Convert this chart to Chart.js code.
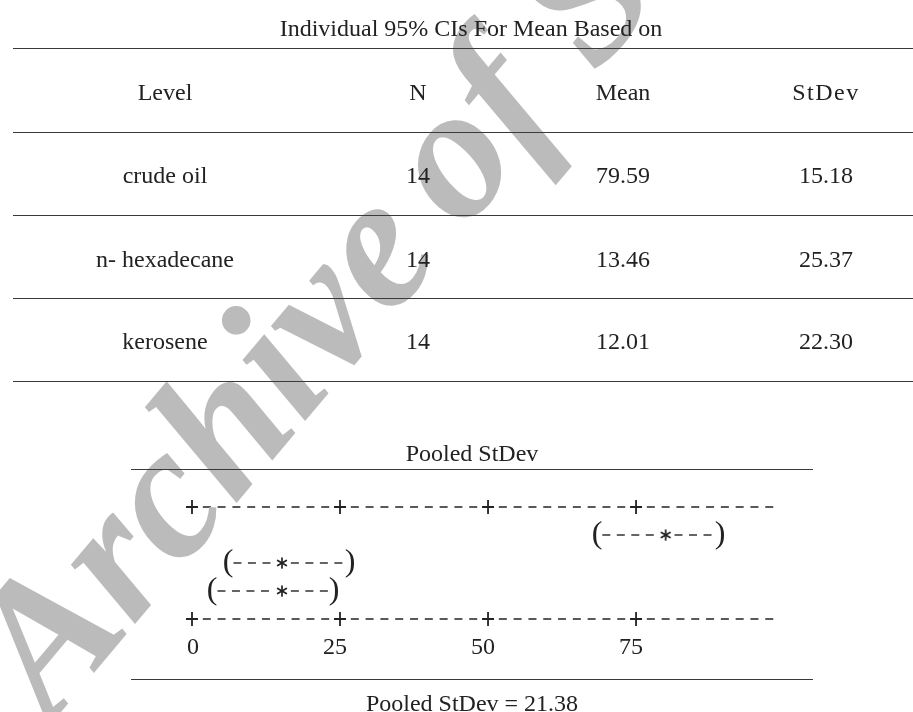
<!DOCTYPE html>
<html>
<head>
<meta charset="utf-8">
<script src="https://cdn.jsdelivr.net/npm/chart.js@4.4.1/dist/chart.umd.min.js"></script>
<style>
  html, body { margin: 0; padding: 0; background: #fff; }
  body { width: 913px; height: 712px; position: relative; overflow: hidden;
         font-family: "Liberation Serif", "Times New Roman", serif; color: #222; }
  .t { position: absolute; font-size: 24px; line-height: 24px; white-space: nowrap; transform: translateX(-50%); }
  .rule { position: absolute; height: 0; border-top: 1.5px solid #3a3a3a; }
  #plotWrap { position: absolute; left: 0; top: 490px; width: 913px; height: 180px; }
  #mark { position: absolute; left: 0; top: 0; pointer-events: none; }
</style>
</head>
<body>
<div id="plotWrap"><canvas id="ciChart"></canvas></div>
<canvas id="mark" width="913" height="712"></canvas>
<script>
// table data
const headers = ['Level', 'N', 'Mean', 'StDev'];
const levels = ['crude oil', 'n- hexadecane', 'kerosene'];
const counts = [14, 14, 14];
const means = [79.59, 13.46, 12.01];
const stdevs = [15.18, 25.37, 22.30];
const pooledStDev = 21.38;

// text plot
const tickValues = [0, 25, 50, 75];
const ciLow = [68.4, 6.1, 3.4];
const ciStar = [80.0, 15.2, 15.2];
const ciHigh = [89.2, 26.7, 24.0];
const xMax = 98.3;

// ---- table part (plain text + rules) ----
function addText(str, cx, baseline, extra) {
    const d = document.createElement('div');
    d.className = 't';
    d.textContent = str;
    d.style.left = cx + 'px';
    d.style.top = (baseline - 19) + 'px';
    if (extra) Object.assign(d.style, extra);
    document.body.appendChild(d);
}
function addRule(x1, x2, y) {
    const d = document.createElement('div');
    d.className = 'rule';
    d.style.left = x1 + 'px';
    d.style.width = (x2 - x1) + 'px';
    d.style.top = y + 'px';
    document.body.appendChild(d);
}

const colX = [165, 418, 623, 826];
const rowBase = [182, 266, 348];

addText('Individual 95% CIs For Mean Based on', 471, 35);
headers.forEach((h, i) => addText(h, colX[i], 99, i === 3 ? { letterSpacing: '1.5px' } : null));
levels.forEach((lv, r) => {
    addText(lv, colX[0], rowBase[r]);
    addText(String(counts[r]), colX[1], rowBase[r]);
    addText(means[r].toFixed(2), colX[2], rowBase[r]);
    addText(stdevs[r].toFixed(2), colX[3], rowBase[r]);
});
addRule(13, 913, 48);
addRule(13, 913, 132);
addRule(13, 913, 215);
addRule(13, 913, 298);
addRule(13, 913, 381);

addText('Pooled StDev', 472, 460);
addRule(131, 813, 469);
addRule(131, 813, 679);
addText('Pooled StDev = ' + pooledStDev.toFixed(2), 472, 710);

// ---- character-style CI plot ----
const star = document.createElement('canvas');
star.width = 14; star.height = 14;
(function() {
    const c = star.getContext('2d');
    c.strokeStyle = '#222';
    c.lineWidth = 1.7;
    c.lineCap = 'round';
    for (let k = 0; k < 3; k++) {
        const a = Math.PI / 2 + k * Math.PI / 3;
        c.beginPath();
        c.moveTo(7 + 5 * Math.cos(a), 7 + 5 * Math.sin(a));
        c.lineTo(7 - 5 * Math.cos(a), 7 - 5 * Math.sin(a));
        c.stroke();
    }
})();

const padParen = 0.9, padStar = 1.5;
const datasets = [{
    label: 'mean',
    data: ciStar.map((v, i) => ({ x: v, y: i + 1 })),
    pointStyle: star,
    pointRadius: 7,
    showLine: false,
    order: 0
}];
levels.forEach((lv, i) => {
    const base = { borderColor: '#333', borderWidth: 1.6, borderDash: [8, 6.5], pointRadius: 0, showLine: true, order: 1 };
    datasets.push(Object.assign({ label: lv + ' lo', data: [{ x: ciLow[i] + padParen, y: i + 1 }, { x: ciStar[i] - padStar, y: i + 1 }] }, base));
    datasets.push(Object.assign({ label: lv + ' hi', data: [{ x: ciStar[i] + padStar, y: i + 1 }, { x: ciHigh[i] - padParen, y: i + 1 }] }, base));
});

const textPlot = {
    id: 'textPlot',
    afterDatasetsDraw(chart) {
        const ctx = chart.ctx;
        const xs = chart.scales.x, ys = chart.scales.y;
        const step = (tickValues[1] - tickValues[0]) / 10;
        ctx.save();
        ctx.strokeStyle = '#222';
        ctx.fillStyle = '#222';
        // axis rows, top and bottom
        [0, 4].forEach(row => {
            const y = ys.getPixelForValue(row);
            ctx.lineWidth = 1.5;
            for (let v = step; v <= xMax + 0.01; v += step) {
                if (Math.abs(v / (step * 10) - Math.round(v / (step * 10))) < 0.01) continue;
                const px = xs.getPixelForValue(v);
                ctx.beginPath();
                ctx.moveTo(px - 4, y);
                ctx.lineTo(px + 4, y);
                ctx.stroke();
            }
            ctx.lineWidth = 1.8;
            tickValues.forEach(t => {
                const px = xs.getPixelForValue(t);
                ctx.beginPath();
                ctx.moveTo(px - 6, y); ctx.lineTo(px + 6, y);
                ctx.moveTo(px, y - 7); ctx.lineTo(px, y + 7);
                ctx.stroke();
            });
        });
        // tick labels
        ctx.font = '24px "Liberation Serif", serif';
        ctx.textAlign = 'right';
        ctx.textBaseline = 'alphabetic';
        const yl = ys.getPixelForValue(4) + 35;
        tickValues.forEach(t => ctx.fillText(String(t), xs.getPixelForValue(t) + 7, yl));
        // parentheses
        ctx.font = '32px "Liberation Serif", serif';
        ctx.textAlign = 'center';
        levels.forEach((lv, i) => {
            const y = ys.getPixelForValue(i + 1) + 8;
            ctx.fillText('(', xs.getPixelForValue(ciLow[i]), y);
            ctx.fillText(')', xs.getPixelForValue(ciHigh[i]), y);
        });
        ctx.restore();
    }
};

new Chart(document.getElementById('ciChart'), {
    type: 'scatter',
    data: { datasets: datasets },
    options: {
        responsive: true,
        maintainAspectRatio: false,
        animation: false,
        layout: { padding: { left: 192, right: 139, top: 17, bottom: 51 } },
        scales: {
            x: { type: 'linear', min: 0, max: xMax, display: false },
            y: { type: 'linear', min: 0, max: 4, reverse: true, display: false }
        },
        plugins: {
            legend: { display: false },
            tooltip: { enabled: false }
        }
    },
    plugins: [textPlot]
});

// faint archive watermark over the page
(function() {
    const c = document.getElementById('mark').getContext('2d');
    c.save();
    c.translate(51, 724);
    c.rotate(-50 * Math.PI / 180);
    c.font = 'italic bold 190px "Liberation Serif", serif';
    c.fillStyle = 'rgba(175,175,175,0.85)';
    c.fillText('Archive', 0, 0);
    const w = c.measureText('Archive').width;
    c.fillText('of SID', w + 30, 0);
    c.restore();
})();
</script>
</body>
</html>
